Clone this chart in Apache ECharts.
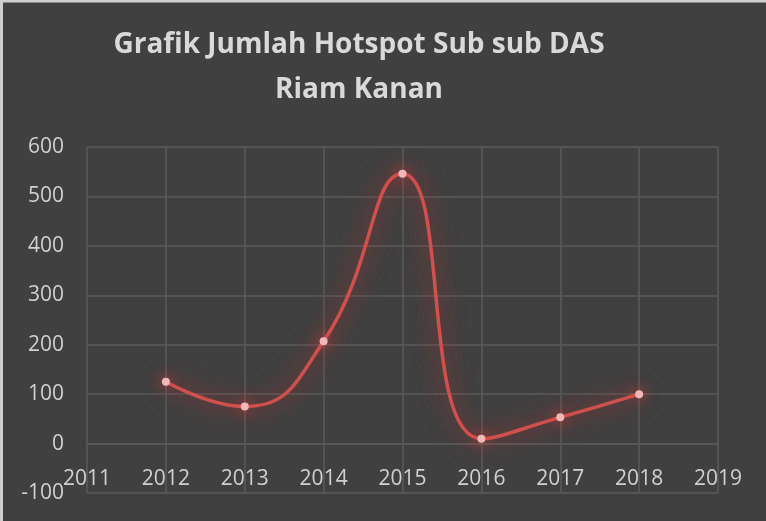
<!DOCTYPE html>
<html><head><meta charset="utf-8">
<script src="https://cdn.jsdelivr.net/npm/echarts@6/dist/echarts.min.js"></script>
<style>html,body{margin:0;padding:0;background:#404040}#c{width:766px;height:521px}</style>
</head><body><div id="c"></div>
<script>
const years = [2012, 2013, 2014, 2015, 2016, 2017, 2018];
const hotspots = [125, 75, 207, 546, 10, 53, 100];
const xTicks = [2011, 2019, 1];
const yTicks = [-100, 600, 100];
const titleText = 'Grafik Jumlah Hotspot Sub sub DAS\nRiam Kanan';

const gridTop = 147, gridBottom = 28, H = 521;
const gridH = H - gridTop - gridBottom;
// place the x axis on y = 0
const zeroOffset = -gridH * (0 - yTicks[0]) / (yTicks[1] - yTicks[0]);

const chart = echarts.init(document.getElementById('c'), null, {renderer: 'canvas'});
chart.setOption({
  backgroundColor: '#404040',
  animation: false,
  graphic: [
    {type: 'rect', left: 0, top: 0, shape: {width: 3, height: 521}, style: {fill: '#cfcfcf'}},
    {type: 'rect', left: 0, top: 0, shape: {width: 766, height: 2.5}, style: {fill: '#cfcfcf'}}
  ],
  title: {
    text: titleText, left: 354, textAlign: 'center', top: 18,
    textStyle: {color: '#d9d9d9', fontFamily: 'Open Sans', fontWeight: 'bold', fontSize: 28, lineHeight: 45}
  },
  grid: {left: 87, right: 48, top: gridTop, bottom: gridBottom, containLabel: false},
  xAxis: {
    type: 'value', min: xTicks[0], max: xTicks[1], interval: xTicks[2],
    offset: zeroOffset,
    axisLine: {show: true, onZero: false, lineStyle: {color: '#5a5a5a', width: 1.5}},
    axisTick: {show: false},
    axisLabel: {color: '#d0d0d0', fontSize: 21, fontFamily: 'Open Sans', margin: 25, showMinLabel: true, showMaxLabel: true,
      formatter: v => String(v)},
    splitLine: {show: true, lineStyle: {color: '#5a5a5a', width: 1.5}}
  },
  yAxis: {
    type: 'value', min: yTicks[0], max: yTicks[1], interval: yTicks[2],
    axisLine: {show: false},
    axisTick: {show: false},
    axisLabel: {color: '#d0d0d0', fontSize: 21, fontFamily: 'Open Sans', margin: 23},
    splitLine: {show: true, lineStyle: {color: '#5a5a5a', width: 1.5}}
  },
  series: [{
    type: 'line',
    data: years.map((y, i) => [y, hotspots[i]]),
    smooth: 0.5,
    symbol: 'circle', symbolSize: 8,
    itemStyle: {color: '#f2b8b8', shadowColor: 'rgba(255,60,60,1)', shadowBlur: 14},
    lineStyle: {color: '#d0504e', width: 3.5, shadowColor: 'rgba(235,40,40,0.85)', shadowBlur: 22}
  }]
});
</script></body></html>
